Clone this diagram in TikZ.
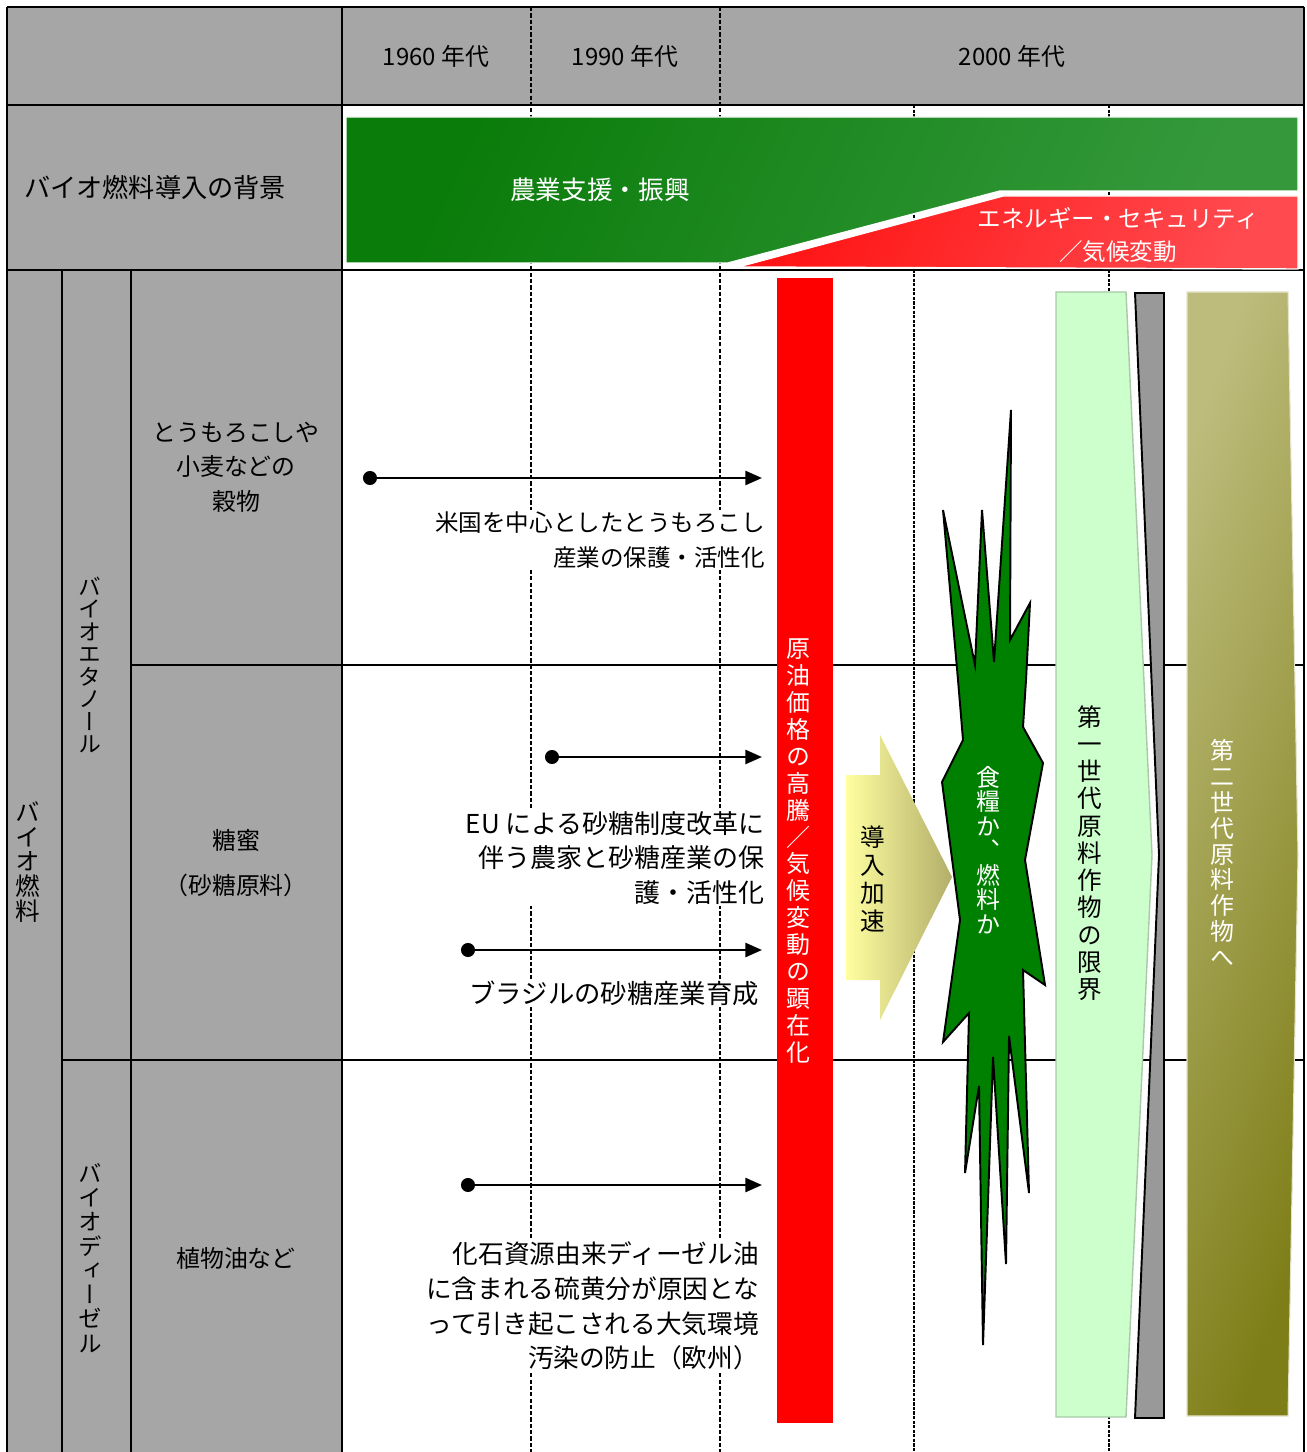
\documentclass[tikz,border=0pt]{standalone}
\usepackage{fontspec}
\setmainfont{Noto Sans CJK JP}
\newfontfamily\vfont[RawFeature=+vert]{Noto Sans CJK JP}
\usetikzlibrary{arrows.meta}
\definecolor{cellgray}{HTML}{A6A6A6}
\definecolor{bandgA}{HTML}{0A7C0A}
\definecolor{bandgB}{HTML}{35993C}
\definecolor{bandrA}{HTML}{FF1515}
\definecolor{bandrB}{HTML}{FF4A4F}
\definecolor{stargreen}{HTML}{008000}
\definecolor{paleg}{HTML}{CCFFCC}
\definecolor{palegline}{HTML}{A9C9A9}
\definecolor{sliver}{HTML}{999999}
\definecolor{oliveA}{HTML}{BDBC7C}
\definecolor{oliveB}{HTML}{7E7E18}
\definecolor{yelA}{HTML}{FFFFA0}
\definecolor{yelB}{HTML}{B2AE6A}
\begin{document}
\begin{tikzpicture}[x=0.02cm,y=-0.02cm,
  gridline/.style={line width=1.1pt, black},
  dashA/.style={line width=0.8pt, dash pattern=on 2.4pt off 1.2pt},
  dashB/.style={line width=1.3pt, dash pattern=on 1.8pt off 0.8pt},
  bodytxt/.style={font=\fontsize{13.8pt}{19.7pt}\selectfont, inner sep=1pt},
  whitetxt/.style={bodytxt, fill=white, align=right},
  celltxt/.style={font=\fontsize{13.6pt}{19.6pt}\selectfont, align=center, inner sep=0pt},
  vtxt/.style={align=center, inner sep=0pt},
  dotn/.style={circle, fill=black, minimum size=8pt, inner sep=0pt},
  arr/.style={line width=1.4pt, -{Triangle[length=9.5pt,width=8pt]}}
]
\useasboundingbox (0,0) rectangle (1306,1452);
\fill[white] (0,0) rectangle (1306,1452);
% gray cells
\fill[cellgray] (7,7) rectangle (1304,105);
\fill[cellgray] (7,105) rectangle (342,1452);
% dashed decade lines
\draw[dashA] (531,7) -- (531,1452);
\draw[dashA] (720,7) -- (720,1452);
\draw[dashB] (914,105) -- (914,1452);
\draw[dashB] (1109,105) -- (1109,1452);
% solid grid
\draw[gridline] (7,7) -- (1304,7);
\draw[gridline] (7,7) -- (7,1452);
\draw[gridline] (1304,7) -- (1304,1452);
\draw[gridline] (342,7) -- (342,1452);
\draw[gridline] (7,105) -- (1304,105);
\draw[gridline] (7,270) -- (1304,270);
\draw[gridline] (62,270) -- (62,1452);
\draw[gridline] (131,270) -- (131,1452);
\draw[gridline] (131,665) -- (1304,665);
\draw[gridline] (62,1060) -- (1304,1060);
% header texts
\node[celltxt] (h60) at (436,56) {1960 年代};
\node[celltxt] (h90) at (625,56) {1990 年代};
\node[celltxt] (h00) at (1012,56) {2000 年代};
\node[celltxt, font=\fontsize{14.9pt}{19pt}\selectfont] (bg) at (155,188) {バイオ燃料導入の背景};
% background band
\shade[left color=bandgA, right color=bandgB, shading angle=65, draw=white, line width=0.8pt]
  (346,117) -- (1298,117) -- (1298,191) -- (1000,191) -- (728,263) -- (346,263) -- cycle;
\shade[left color=bandrA, right color=bandrB, shading angle=65, draw=white, line width=0.8pt]
  (738,267) -- (1003,196) -- (1298,196) -- (1298,269) -- cycle;
\node[celltxt, text=white, font=\fontsize{14.6pt}{19pt}\selectfont] (agri) at (600,190) {農業支援・振興};
\node[celltxt, text=white, font=\fontsize{13.4pt}{19.3pt}\selectfont] (energy) at (1118,235) {エネルギー・セキュリティ\\／気候変動};
% left column texts
\node[vtxt, font=\vfont\fontsize{14pt}{14.2pt}\selectfont] (bf) at (28,862) {バ\\イ\\オ\\燃\\料};
\node[vtxt, font=\vfont\fontsize{13pt}{12.8pt}\selectfont] (bet) at (90,665) {バ\\イ\\オ\\エ\\タ\\ノ\\ー\\ル};
\node[vtxt, font=\vfont\fontsize{13.4pt}{13.8pt}\selectfont] (bdi) at (90,1258) {バ\\イ\\オ\\デ\\ィ\\ー\\ゼ\\ル};
\node[celltxt] (grain) at (236,467) {とうもろこしや\\小麦などの\\穀物};
\node[celltxt, font=\fontsize{13.6pt}{26pt}\selectfont] (sugar) at (236,863) {糖蜜\\（砂糖原料）};
\node[celltxt] (oil) at (236,1258) {植物油など};
% event arrows
\node[dotn] (d1) at (370,478) {};
\coordinate (e1) at (762,478);
\draw[arr] (d1.center) -- (e1);
\node[dotn] (d2) at (552,757) {};
\coordinate (e2) at (762,757);
\draw[arr] (d2.center) -- (e2);
\node[dotn] (d3) at (468,950) {};
\coordinate (e3) at (762,950);
\draw[arr] (d3.center) -- (e3);
\node[dotn] (d4) at (468,1185) {};
\coordinate (e4) at (762,1185);
\draw[arr] (d4.center) -- (e4);
% event texts
\node[whitetxt, anchor=east, font=\fontsize{13.4pt}{19.7pt}\selectfont] (t1) at (767,540) {米国を中心としたとうもろこし\\産業の保護・活性化};
\node[whitetxt, anchor=east, font=\fontsize{14.8pt}{19.7pt}\selectfont] (t2) at (767,858) {EU による砂糖制度改革に\\伴う農家と砂糖産業の保\\護・活性化};
\node[whitetxt, anchor=east, font=\fontsize{15pt}{19.7pt}\selectfont] (t3) at (761,993) {ブラジルの砂糖産業育成};
\node[whitetxt, anchor=east, font=\fontsize{14.6pt}{19.7pt}\selectfont] (t4) at (761,1306) {化石資源由来ディーゼル油\\に含まれる硫黄分が原因とな\\って引き起こされる大気環境\\汚染の防止（欧州）};
% red bar
\fill[red] (777,278) rectangle (833,1423);
\node[vtxt, text=white, font=\vfont\fontsize{13.6pt}{15.3pt}\selectfont] (crude) at (798,851)
  {原\\油\\価\\格\\の\\高\\騰\\／\\気\\候\\変\\動\\の\\顕\\在\\化};
% yellow arrow
\shade[left color=yelA, right color=yelB]
  (846,775) -- (880,775) -- (880,735) -- (952,877) -- (880,1020) -- (880,980) -- (846,980) -- cycle;
\node[vtxt, font=\vfont\fontsize{14pt}{15.9pt}\selectfont] (accel) at (873,879) {導\\入\\加\\速};
% star
\filldraw[fill=stargreen, draw=black, line width=1.1pt, line join=miter]
  (1011,410) -- (1010,640) -- (1030,603) -- (1026,680) -- (1023,727) -- (1043,763) -- (1025,860)
  -- (1045,985) -- (1023,970) -- (1029,1193) -- (1009,1036) -- (1006,1264) -- (993,1057)
  -- (983,1345) -- (979,1086) -- (965,1173) -- (969,1013) -- (943,1042) -- (960,920)
  -- (942,782) -- (963,740) -- (958,680) -- (943,510) -- (975,665) -- (982,510) -- (994,662) -- cycle;
\node[vtxt, text=white, font=\vfont\fontsize{13.6pt}{14pt}\selectfont] (food) at (988,850) {食\\糧\\か\\、\\燃\\料\\か};
% first generation limit
\filldraw[fill=paleg, draw=palegline, line width=0.8pt]
  (1056,292) -- (1126,292) -- (1152,855) -- (1126,1417) -- (1056,1417) -- cycle;
\filldraw[fill=sliver, draw=black, line width=1.1pt]
  (1135,293) -- (1164,293) -- (1164,1418) -- (1135,1418) -- (1159,855) -- cycle;
\node[vtxt, font=\vfont\fontsize{14pt}{15.5pt}\selectfont] (gen1) at (1090,853) {第\\一\\世\\代\\原\\料\\作\\物\\の\\限\\界};
% second generation
\shade[left color=oliveA, right color=oliveB, shading angle=70]
  (1187,292) -- (1288,292) -- (1298,855) -- (1288,1416) -- (1187,1416) -- cycle;
\draw[line width=0.6pt, draw=oliveA!40!white]
  (1187,292) -- (1288,292) -- (1298,855) -- (1288,1416) -- (1187,1416) -- cycle;
\node[vtxt, text=white, font=\vfont\fontsize{13.6pt}{14.7pt}\selectfont] (gen2) at (1222,853) {第\\二\\世\\代\\原\\料\\作\\物\\へ};
\end{tikzpicture}
\end{document}
